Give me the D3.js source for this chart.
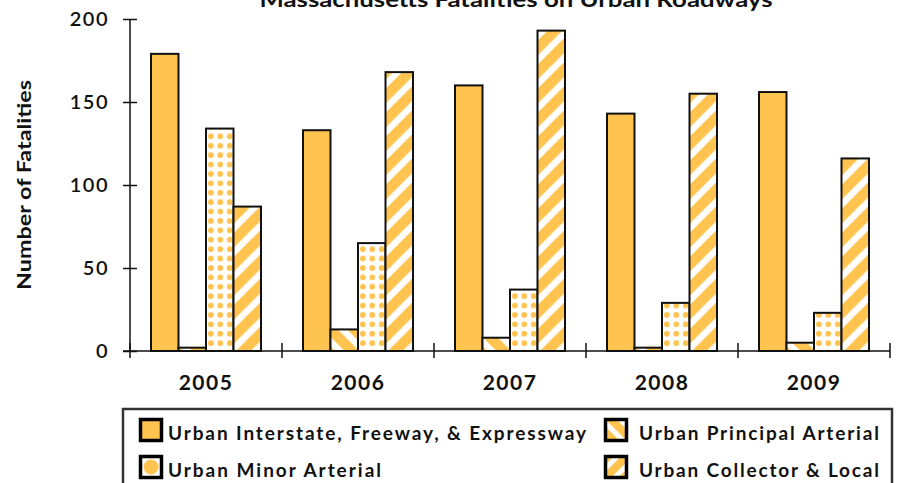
<!DOCTYPE html>
<html>
<head>
<meta charset="utf-8">
<script src="https://cdn.jsdelivr.net/npm/d3@7"></script>
<style>
  body { margin: 0; background: #fff; }
  svg { display: block; font-family: Lato, "DejaVu Sans", sans-serif; }
</style>
</head>
<body>
<svg id="chart" width="898" height="483"></svg>
<script>
const years = ["2005", "2006", "2007", "2008", "2009"];
const series = ["Urban Interstate, Freeway, & Expressway", "Urban Principal Arterial", "Urban Minor Arterial", "Urban Collector & Local"];
const interstate = [179, 133, 160, 143, 156];
const principal = [2, 13, 8, 2, 5];
const minor = [134, 65, 37, 29, 23];
const collector = [87, 168, 193, 155, 116];
const yTicks = [0, 50, 100, 150, 200];

const values = [interstate, principal, minor, collector];
const fills = ["#ffc34f", "url(#pStripeBack)", "url(#pDots)", "url(#pStripeFwd)"];
const legendFills = ["#ffc34f", "url(#lStripeBack)", "url(#lDot)", "url(#lStripeFwd)"];
const orange = "#ffc34f";

const svg = d3.select("#chart");
const defs = svg.append("defs");

function stripes(id, size, band, angle) {
  const p = defs.append("pattern").attr("id", id)
    .attr("patternUnits", "userSpaceOnUse")
    .attr("width", size).attr("height", size)
    .attr("patternTransform", "rotate(" + angle + ")");
  p.append("rect").attr("width", size).attr("height", size).attr("fill", "#fff");
  p.append("rect").attr("width", band).attr("height", size).attr("fill", orange);
}
stripes("pStripeFwd", 17, 10.5, 45);
stripes("pStripeBack", 17, 10.5, -45);
stripes("lStripeFwd", 13, 8, 45);
stripes("lStripeBack", 13, 8, -45);

const dots = defs.append("pattern").attr("id", "pDots")
  .attr("patternUnits", "userSpaceOnUse")
  .attr("width", 9.4).attr("height", 9.4)
  .attr("x", 1).attr("y", 0);
dots.append("rect").attr("width", 9.4).attr("height", 9.4).attr("fill", "#fff");
dots.append("circle").attr("cx", 4.7).attr("cy", 4.7).attr("r", 2.9).attr("fill", orange);

const ldot = defs.append("pattern").attr("id", "lDot")
  .attr("patternUnits", "objectBoundingBox")
  .attr("patternContentUnits", "objectBoundingBox")
  .attr("width", 1).attr("height", 1);
ldot.append("rect").attr("width", 1).attr("height", 1).attr("fill", "#fff");
ldot.append("circle").attr("cx", 0.5).attr("cy", 0.5).attr("r", 0.36).attr("fill", orange);

const x0 = d3.scaleBand().domain(years).range([130, 890]);
const x1 = d3.scaleBand().domain(d3.range(series.length)).range([21, 131]);
const y = d3.scaleLinear().domain([0, 200]).range([351, 19]);

// bars
const groups = svg.selectAll(".year").data(years).join("g")
  .attr("class", "year")
  .attr("transform", d => "translate(" + x0(d) + ",0)");

groups.selectAll("rect")
  .data((d, i) => values.map((v, s) => ({ s: s, v: v[i] })))
  .join("rect")
  .attr("x", d => x1(d.s))
  .attr("width", x1.bandwidth())
  .attr("y", d => y(d.v))
  .attr("height", d => y(0) - y(d.v))
  .attr("fill", d => fills[d.s])
  .attr("stroke", "#111")
  .attr("stroke-width", 2);

// y axis
const yAxis = svg.append("g").attr("transform", "translate(130,0)")
  .call(d3.axisLeft(y).tickValues(yTicks).tickSize(7).tickPadding(14).tickSizeOuter(0));
yAxis.selectAll(".tick line").attr("x2", 7).attr("x1", -7);
yAxis.select(".domain").attr("d", "M0," + y(200) + "V" + y(0));
yAxis.selectAll("text").attr("font-size", 20).attr("font-weight", 600)
  .attr("fill", "#111").attr("font-family", "Lato, sans-serif").attr("letter-spacing", 1.5);

// x axis
const xAxis = svg.append("g").attr("transform", "translate(0,351)");
xAxis.append("line").attr("x1", 123).attr("x2", 890).attr("stroke", "#111").attr("stroke-width", 1.5);
const xTickPos = years.map(d => x0(d)).concat([x0.range()[1]]);
xAxis.selectAll(".xt").data(xTickPos).join("line").attr("class", "xt")
  .attr("x1", d => d).attr("x2", d => d).attr("y1", -8).attr("y2", 7)
  .attr("stroke", "#111").attr("stroke-width", 1.5);
xAxis.selectAll(".xl").data(years).join("text").attr("class", "xl")
  .attr("x", d => x0(d) + x0.bandwidth() / 2).attr("y", 39)
  .attr("text-anchor", "middle").attr("font-size", 21).attr("font-weight", 700)
  .attr("letter-spacing", 1.5).attr("fill", "#111").text(d => d);
yAxis.select(".domain").attr("stroke", "#111").attr("stroke-width", 1.5);
yAxis.selectAll(".tick line").attr("stroke", "#111").attr("stroke-width", 1.5);

// title
svg.append("text").attr("x", 516).attr("y", 7).attr("text-anchor", "middle")
  .attr("font-size", 21).attr("font-weight", 700).attr("fill", "#111")
  .attr("textLength", 513).attr("lengthAdjust", "spacingAndGlyphs")
  .text("Massachusetts Fatalities on Urban Roadways");

// y label
svg.append("text").attr("transform", "translate(31,185) rotate(-90)")
  .attr("text-anchor", "middle").attr("font-size", 19).attr("font-weight", 700)
  .attr("fill", "#111").attr("textLength", 210).attr("lengthAdjust", "spacingAndGlyphs")
  .text("Number of Fatalities");

// legend
svg.append("rect").attr("x", 123).attr("y", 409).attr("width", 769).attr("height", 90)
  .attr("fill", "#fff").attr("stroke", "#333").attr("stroke-width", 2.5);

const legendPos = [
  { x: 139, y: 418, w: 418 },
  { x: 604, y: 418, w: 240 },
  { x: 139, y: 455, w: 213 },
  { x: 604, y: 455, w: 240 }
];
const lg = svg.selectAll(".lg").data(series).join("g").attr("class", "lg")
  .attr("transform", (d, i) => "translate(" + legendPos[i].x + "," + legendPos[i].y + ")");
lg.append("rect").attr("x", 1.5).attr("y", 1.5).attr("width", 21).attr("height", 21)
  .attr("fill", (d, i) => legendFills[i]).attr("stroke", "#000").attr("stroke-width", 3.5);
lg.append("text").attr("x", (d, i) => i % 2 ? 35 : 29).attr("y", 22)
  .attr("font-size", 19).attr("font-weight", 700).attr("fill", "#111")
  .attr("textLength", (d, i) => legendPos[i].w).attr("lengthAdjust", "spacing")
  .text(d => d);
</script>
</body>
</html>
